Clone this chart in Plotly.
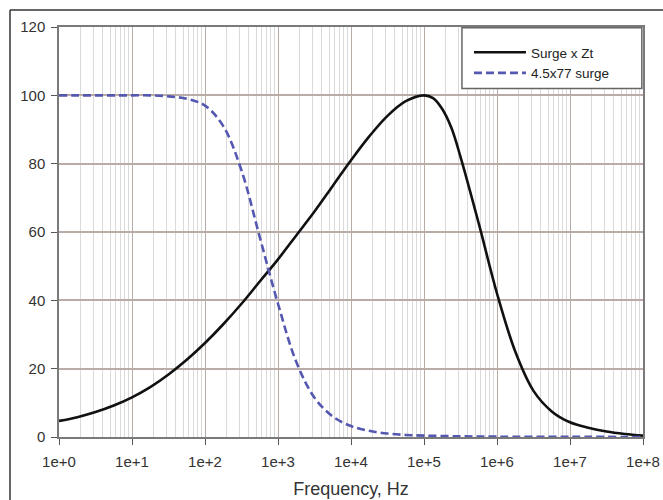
import plotly.graph_objects as go

# log10 of frequency (Hz) and values
surge_zt_logf = [0, 0.25, 0.5, 0.75, 1, 1.25, 1.5, 1.75, 2, 2.25, 2.5, 2.75, 3, 3.25, 3.5, 3.75,
                 4, 4.25, 4.5, 4.75, 5, 5.125, 5.25, 5.375, 5.5, 5.75, 6, 6.25, 6.5, 6.75, 7, 7.25, 7.5, 7.75, 8]
surge_zt_val = [4.7, 5.8, 7.3, 9.2, 11.6, 14.6, 18.3, 22.6, 27.5, 33, 39, 45.5, 52, 59, 66, 73.5,
                81, 88, 94, 98.3, 100, 99.2, 96, 90.5, 82, 62.5, 42, 25, 13.5, 7.5, 4.3, 2.7, 1.6, 0.9, 0.4]

surge_logf = [0, 0.25, 0.5, 0.75, 1, 1.25, 1.5, 1.75, 2, 2.25, 2.5, 2.75, 3, 3.25, 3.5, 3.75,
              4, 4.25, 4.5, 4.75, 5, 5.5, 6, 7, 8]
surge_val = [100, 100, 100, 100, 100, 100, 99.7, 99, 97, 91, 78, 58.5, 39, 22, 11.5, 6,
             3.2, 1.8, 1.0, 0.6, 0.4, 0.2, 0.1, 0.05, 0]

x_tick_vals = [1e0, 1e1, 1e2, 1e3, 1e4, 1e5, 1e6, 1e7, 1e8]
x_tick_text = ["1e+0", "1e+1", "1e+2", "1e+3", "1e+4", "1e+5", "1e+6", "1e+7", "1e+8"]
y_tick_vals = [0, 20, 40, 60, 80, 100, 120]

minor_vals = [k * 10 ** d for d in range(0, 8) for k in range(2, 10)]

fig = go.Figure()
fig.add_trace(go.Scatter(
    x=[10 ** v for v in surge_zt_logf], y=surge_zt_val, mode="lines",
    name="Surge x Zt", line=dict(color="#111111", width=2.6, shape="spline", smoothing=1.0),
))
fig.add_trace(go.Scatter(
    x=[10 ** v for v in surge_logf], y=surge_val, mode="lines",
    name="4.5x77 surge", line=dict(color="#5558b0", width=2.6, dash="8px,4px", shape="spline", smoothing=1.0),
))

font = "Liberation Sans, Arial, sans-serif"
fig.update_layout(
    width=663, height=500,
    margin=dict(l=59, r=20, t=27, b=63, autoexpand=False),
    paper_bgcolor="white", plot_bgcolor="white",
    font=dict(family=font, color="#333333"),
    showlegend=True,
    legend=dict(x=0.702, y=0.9756, xanchor="left", yanchor="top",
                bgcolor="rgba(0,0,0,0)", borderwidth=0,
                font=dict(size=13.5, color="#222222", family=font),
                itemwidth=52, tracegroupgap=0),
    xaxis=dict(
        type="log", range=[0, 8], automargin=False,
        tickvals=x_tick_vals, ticktext=x_tick_text,
        ticks="outside", ticklen=6, tickcolor="#555555", ticklabelstandoff=4,
        tickfont=dict(size=15, color="#333333"),
        showgrid=True, gridcolor="#b9aca6", gridwidth=1.2,
        minor=dict(tickvals=minor_vals, showgrid=True, gridcolor="#dadada", gridwidth=1.3, ticks=""),
        showline=True, linecolor="#7a7a7a", linewidth=1.5, mirror=True,
        title=dict(text="Frequency, Hz", font=dict(size=18, color="#333333"), standoff=14),
        zeroline=False,
    ),
    yaxis=dict(
        range=[0, 120], tickvals=y_tick_vals, automargin=False,
        ticks="outside", ticklen=6, tickcolor="#555555", ticklabelstandoff=3,
        tickfont=dict(size=15, color="#333333"),
        showgrid=True, gridcolor="#b9aca6", gridwidth=1.5,
        showline=True, linecolor="#7a7a7a", linewidth=1.5, mirror=True,
        zeroline=False,
    ),
    shapes=[
        # legend box
        dict(type="rect", xref="paper", yref="paper", x0=0.69, x1=0.998, y0=0.85, y1=0.998,
             line=dict(color="#666666", width=1.5), fillcolor="white", layer="above"),
        # outer frame (top and left edges)
        dict(type="line", xref="paper", yref="paper", x0=-49 / 584, x1=1.05, y0=1 + 17 / 410, y1=1 + 17 / 410,
             line=dict(color="#333333", width=1.5)),
        dict(type="line", xref="paper", yref="paper", x0=-49 / 584, x1=-49 / 584, y0=-0.2, y1=1 + 17 / 410,
             line=dict(color="#333333", width=1.5)),
    ],
)

fig.write_html("out.html", config={"displayModeBar": False},
               post_script="document.body.style.margin='0';")
